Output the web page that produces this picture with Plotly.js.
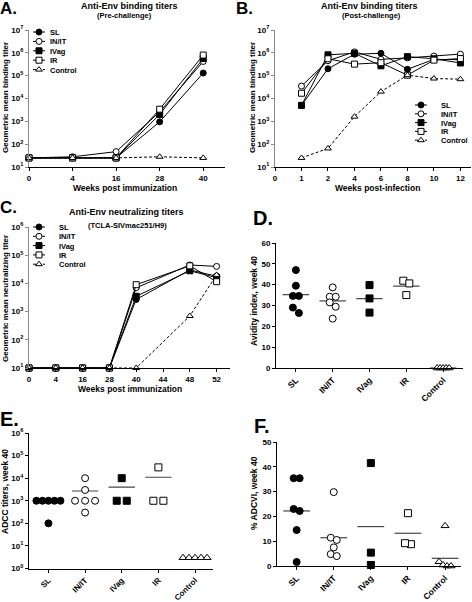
<!DOCTYPE html>
<html><head><meta charset="utf-8">
<script src="https://cdn.plot.ly/plotly-3.0.1.min.js"></script>
<style>html,body{margin:0;padding:0;background:#fff}#chart{width:472px;height:602px}</style>
</head><body><div id="chart"></div>
<script>
// ---------- DATA ----------
const groups = ['SL', 'IN/IT', 'IVag', 'IR', 'Control'];

// Panel A: binding titers, pre-challenge
const weeksA = ['0', '4', '16', '28', '40'];
const aSL      = [25, 25, 25, 950, 1.3e5];
const aINIT    = [25, 28, 47, 2600, 4.2e5];
const aIVag    = [25, 25, 25, 2000, 5.7e5];
const aIR      = [25, 25, 25, 3400, 8.0e5];
const aControl = [25, 25, 25, 28, 25];

// Panel B: binding titers, post-challenge
const weeksB = ['0', '1', '2', '4', '6', '8', '10', '12'];
const bSL      = [null, 5.0e3, 2.0e5, 8.7e5, 9.5e5, 1.9e5, 5.2e5, 5.0e5];
const bINIT    = [null, 3.5e4, 4.5e5, 1.1e6, 5.2e5, 6.0e5, 7.2e5, 8.8e5];
const bIVag    = [null, 5.0e3, 8.2e5, 9.5e5, 2.7e5, 6.8e5, 5.5e5, 3.6e5];
const bIR      = [null, 1.7e4, 5.5e5, 3.2e5, 3.7e5, 1.05e5, 4.8e5, 5.6e5];
const bControl = [null, 25, 65, 1.6e3, 2.0e4, 1.05e5, 7.5e4, 7.0e4];

// Panel C: neutralizing titers
const weeksC = ['0', '4', '16', '28', '40', '44', '48', '52'];
const cSL      = [10, 10, 10, 10, 2700, null, 3.0e4, 1.8e4];
const cINIT    = [10, 10, 10, 10, 7000, null, 4.5e4, 4.0e4];
const cIVag    = [10, 10, 10, 10, 3500, null, 2.8e4, 1.6e4];
const cIR      = [10, 10, 10, 10, 9000, null, 4.2e4, 1.15e4];
const cControl = [10, 10, 10, 10, 10, null, 700, 2.0e4];
const challengeWeek = '44';

// Panel D: avidity index, week 40
const dSL      = [47, 39.5, 34.6, 34.6, 29, 26.4];
const dINIT    = [38.7, 34.2, 34.2, 31.5, 29.4, 23.7];
const dIVag    = [39.8, 33.4, 26.6];
const dIR      = [41.9, 40.6, 35];
const dControl = [0, 0, 0, 0, 0];
const dLine    = [35.2, 32.2, 33.3, 39.3, 0];

// Panel E: ADCC titers, week 40
const eSL      = [1000, 1000, 1000, 1000, 1000, 100];
const eINIT    = [1e4, 3000, 1000, 1000, 1000, 300];
const eIVag    = [1e4, 1000, 1000];
const eIR      = [3e4, 1000, 1000];
const eControl = [3, 3, 3, 3, 3];
const eLine    = [850, 2700, 4000, 1.1e4, 3];

// Panel F: % ADCVI, week 40
const fSL      = [35.4, 35.4, 23, 22.2, 14.5, 1.6];
const fINIT    = [29.8, 11.4, 10.5, 7.5, 4.8, 4.0];
const fIVag    = [41.5, 5.4, 0.4];
const fIR      = [21.3, 8.8, 9.2];
const fControl = [16.2, 1.7, 0.4, 0, 0];
const fLine    = [22.2, 11.4, 15.9, 13.2, 3.1];

// ---------- STYLE / LAYOUT ----------
const W = 472, H = 602;
const FONT = 'Liberation Sans, Arial, Helvetica, sans-serif';
const px = v => v / W;
const py = v => 1 - v / H;
const sty = {
  'SL':      {symbol: 'circle', fill: '#000', dash: 'solid'},
  'IN/IT':   {symbol: 'circle', fill: '#fff', dash: 'solid'},
  'IVag':    {symbol: 'square', fill: '#000', dash: 'solid'},
  'IR':      {symbol: 'square', fill: '#fff', dash: 'solid'},
  'Control': {symbol: 'triangle-up', fill: '#fff', dash: '3px,2px'}
};

const traces = [];
function lineSeries(xs, ys, g, xa, ya, leg) {
  const s = sty[g];
  traces.push({
    type: 'scatter', mode: 'lines+markers', x: xs, y: ys, name: g,
    xaxis: xa, yaxis: ya, legend: leg, connectgaps: true, cliponaxis: false,
    line: {color: '#000', width: 1, dash: s.dash},
    marker: {symbol: s.symbol, size: 6, color: s.fill, line: {color: '#000', width: 1}},
    hoverinfo: 'skip'
  });
}
const seriesA = [aSL, aINIT, aIVag, aIR, aControl];
const seriesB = [bSL, bINIT, bIVag, bIR, bControl];
const seriesC = [cSL, cINIT, cIVag, cIR, cControl];
groups.forEach((g, i) => lineSeries(weeksA, seriesA[i], g, 'x', 'y', 'legend'));
groups.forEach((g, i) => lineSeries(weeksB, seriesB[i], g, 'x2', 'y2', 'legend2'));
groups.forEach((g, i) => lineSeries(weeksC, seriesC[i], g, 'x3', 'y3', 'legend3'));

// beeswarm-like horizontal spread (pixel space): step & max spread per panel
function spread(vals, toPx, pxPerUnit, step, maxSpan) {
  const idx = vals.map((v, i) => i).sort((a, b) => vals[b] - vals[a]);
  const offs = new Array(vals.length).fill(0);
  let cl = [idx[0]];
  const flush = () => {
    const n = cl.length;
    const s = n > 1 ? Math.min(step, maxSpan / (n - 1)) : 0;
    cl.forEach((j, k) => offs[j] = ((k - (n - 1) / 2) * s) / pxPerUnit);
  };
  for (let k = 1; k < idx.length; k++) {
    if (Math.abs(toPx(vals[idx[k - 1]]) - toPx(vals[idx[k]])) < 5.5) cl.push(idx[k]);
    else { flush(); cl = [idx[k]]; }
  }
  flush();
  return offs;
}
function dotPanel(series, lines, xa, ya, toPx, pxPerUnit, step, maxSpan) {
  groups.forEach((g, i) => {
    traces.push({
      type: 'scatter', mode: 'lines', x: [i - 0.36, i + 0.36], y: [lines[i], lines[i]],
      xaxis: xa, yaxis: ya, showlegend: false, cliponaxis: false,
      line: {color: '#444', width: 1.2}, hoverinfo: 'skip'
    });
  });
  groups.forEach((g, i) => {
    const s = sty[g];
    const offs = spread(series[i], toPx, pxPerUnit, step, maxSpan);
    traces.push({
      type: 'scatter', mode: 'markers', name: g,
      x: series[i].map((v, k) => i + offs[k]), y: series[i],
      xaxis: xa, yaxis: ya, showlegend: false, cliponaxis: false,
      marker: {symbol: s.symbol, size: 7, color: s.fill, line: {color: '#000', width: 1}},
      hoverinfo: 'skip'
    });
  });
}
dotPanel([dSL, dINIT, dIVag, dIR, dControl], dLine, 'x4', 'y4', v => v * 125 / 60, 36.8, 6, 12);
dotPanel([eSL, eINIT, eIVag, eIR, eControl], eLine, 'x5', 'y5', v => Math.log10(v) * 135.5 / 6, 36.6, 10, 24);
dotPanel([fSL, fINIT, fIVag, fIR, fControl], fLine, 'x6', 'y6', v => v * 124 / 50, 37.1, 6, 12);

const tf = {family: FONT, size: 8, color: '#000', weight: 'bold'};
const base = {showgrid: false, zeroline: false, showline: true, linecolor: '#000', linewidth: 1,
  ticks: 'outside', ticklen: 3, tickwidth: 1, tickcolor: '#000', tickfont: tf, fixedrange: true};
const supLabels = (lo, hi) => {
  const v = [], t = [];
  for (let e = lo; e <= hi; e++) { v.push(Math.pow(10, e)); t.push('10<sup>' + e + '</sup>'); }
  return {tickvals: v, ticktext: t};
};
const grayY = {linecolor: '#888', tickcolor: '#888'};
const rotX = {tickvals: [0, 1, 2, 3, 4], ticktext: groups, tickangle: -45,
  tickfont: Object.assign({}, tf, {size: 8.5})};

const legFont = {family: FONT, size: 7.5, weight: 'bold', color: '#000'};
const layout = {
  width: W, height: H, margin: {l: 0, r: 0, t: 0, b: 0},
  paper_bgcolor: '#fff', plot_bgcolor: 'rgba(0,0,0,0)', showlegend: true,
  font: {family: FONT, color: '#000'},
  xaxis: Object.assign({}, base, {type: 'category', categoryorder: 'array', categoryarray: weeksA,
    range: [0, 4.5], domain: [px(29), px(225)], anchor: 'y'}),
  yaxis: Object.assign({}, base, grayY, {type: 'log', range: [1, 7], domain: [py(167), py(30)], anchor: 'x'},
    supLabels(1, 7)),
  xaxis2: Object.assign({}, base, {type: 'category', categoryorder: 'array', categoryarray: weeksB,
    range: [0, 7.4], domain: [px(275), px(471)], anchor: 'y2'}),
  yaxis2: Object.assign({}, base, grayY, {type: 'log', range: [1, 7], domain: [py(167), py(30)], anchor: 'x2'},
    supLabels(1, 7)),
  xaxis3: Object.assign({}, base, {type: 'category', categoryorder: 'array', categoryarray: weeksC,
    range: [0, 7.5], domain: [px(29), px(230)], anchor: 'y3'}),
  yaxis3: Object.assign({}, base, grayY, {type: 'log', range: [1, 6], domain: [py(368), py(227)], anchor: 'x3'},
    supLabels(1, 6)),
  xaxis4: Object.assign({}, base, rotX, {range: [-0.54, 4.54], domain: [px(276), px(463)], anchor: 'y4'}),
  yaxis4: Object.assign({}, base, {range: [0, 60], dtick: 10, domain: [py(368), py(243)], anchor: 'x4'}),
  xaxis5: Object.assign({}, base, rotX, {range: [-0.53, 4.49], domain: [px(29), px(213)], anchor: 'y5',
    tickfont: Object.assign({}, tf, {size: 8})}),
  yaxis5: Object.assign({}, base, {type: 'log', range: [0, 6], domain: [py(568.5), py(433)], anchor: 'x5'},
    supLabels(0, 6)),
  xaxis6: Object.assign({}, base, rotX, {range: [-0.53, 4.43], domain: [px(277), px(461)], anchor: 'y6'}),
  yaxis6: Object.assign({}, base, {range: [0, 50], dtick: 10, domain: [py(566), py(442)], anchor: 'x6'}),
  legend: {x: px(15), y: py(25), xanchor: 'left', yanchor: 'top', bgcolor: 'rgba(0,0,0,0)',
    font: legFont, itemwidth: 30, tracegroupgap: 0},
  legend2: {x: px(380), y: py(98), xanchor: 'left', yanchor: 'top', bgcolor: 'rgba(0,0,0,0)',
    font: legFont, itemwidth: 30, tracegroupgap: 0},
  legend3: {x: px(15), y: py(220), xanchor: 'left', yanchor: 'top', bgcolor: 'rgba(0,0,0,0)',
    font: legFont, itemwidth: 30, tracegroupgap: 0},
  annotations: []
};
// compact legend placement: [marker centre x, first row centre y, row pitch, marker-to-text gap] in page px
const legendSpots = {legend: [39, 32, 9.4, 11], legend2: [421, 105, 8.8, 8], legend3: [39, 227, 9.3, 10]};

function note(text, x, y, size, opts) {
  layout.annotations.push(Object.assign({
    text: text, xref: 'paper', yref: 'paper', x: px(x), y: py(y), showarrow: false,
    xanchor: 'center', yanchor: 'middle',
    font: {family: FONT, size: size, color: '#000', weight: 'bold'}
  }, opts || {}));
}
// panel letters
const letterOpts = {xanchor: 'left', yanchor: 'top', borderpad: 0};
note('A.', -1, -2, 17, letterOpts);
note('B.', 235, -2, 17, letterOpts);
note('C.', -1, 197, 17, letterOpts);
note('D.', 252, 206, 20, letterOpts);
note('E.', -1, 407, 20, letterOpts);
note('F.', 253, 414, 20, letterOpts);
// titles
note('Anti-Env binding titers', 129, 5.5, 9);
note('(Pre-challenge)', 124, 16, 7.5);
note('Anti-Env binding titers', 369, 5.5, 9);
note('(Post-challenge)', 371, 16, 7.5);
note('Anti-Env neutralizing titers', 126, 212, 9);
note('(TCLA-SIVmac251/H9)', 127, 225, 7.5);
// axis titles
note('Weeks post immunization', 125, 187.5, 8.5);
note('Weeks post-infection', 377, 188, 8.5);
note('Weeks post immunization', 129.5, 388.5, 8.5);
note('Geometric mean binding titer', 5, 98, 8, {textangle: -90});
note('Geometric mean binding titer', 252, 98, 8, {textangle: -90});
note('Geometric mean neutralizing titer', 5, 299, 8, {textangle: -90});
note('Avidity index, week 40', 254, 301, 8.5, {textangle: -90});
note('ADCC titers, week 40', 5, 492, 8.5, {textangle: -90});
note('% ADCVI, week 40', 254, 493, 8.5, {textangle: -90});
// challenge arrow
layout.annotations.push({
  text: 'SIV<sub>mac251</sub>', xref: 'x3', yref: 'paper', x: challengeWeek, y: py(272),
  showarrow: true, ax: 0, ay: -25, arrowhead: 2, arrowsize: 1, arrowwidth: 1.1, arrowcolor: '#000',
  font: {family: FONT, size: 7.5, color: '#000', weight: 'bold'}
});

function compactLegends(gd) {
  Object.keys(legendSpots).forEach(cls => {
    const lg = gd.querySelector('g.' + cls);
    if (!lg) return;
    const [mx, cy, pitch, gap] = legendSpots[cls];
    lg.querySelectorAll('[clip-path]').forEach(el => el.removeAttribute('clip-path'));
    lg.querySelectorAll('g.groups').forEach(gr => gr.setAttribute('transform', 'translate(0,0)'));
    lg.querySelectorAll('g.traces').forEach((it, i) => {
      it.setAttribute('transform', 'translate(0,0)');
      const ctm = it.getCTM();
      const ox = ctm ? ctm.e : 0, oy = ctm ? ctm.f : 0;
      it.setAttribute('transform', 'translate(' + (mx - 20 - ox) + ',' + (cy + i * pitch - oy) + ')');
      it.querySelectorAll('.legendlines path').forEach(p => p.setAttribute('d', 'M14,0h12'));
      const t = it.querySelector('text.legendtext');
      if (t) t.setAttribute('x', 20 + gap);
    });
    const bg = lg.querySelector('rect.bg');
    if (bg) bg.setAttribute('height', 0);
  });
}

Plotly.newPlot('chart', traces, layout, {staticPlot: true, displayModeBar: false})
  .then(compactLegends);
</script></body></html>
